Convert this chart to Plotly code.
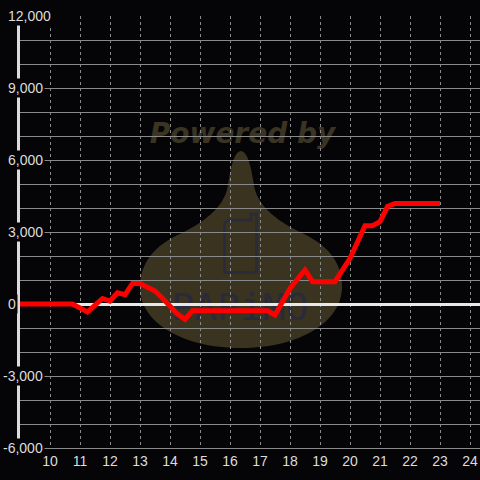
import plotly.graph_objects as go

# ---- data ----
hours = [9.0, 10.75, 11.25, 11.75, 12.0, 12.25, 12.5, 12.75, 13.0, 13.5, 13.75,
         14.25, 14.5, 14.75, 17.25, 17.5, 18.0, 18.5, 18.75, 19.5, 20.0, 20.5,
         20.75, 21.0, 21.25, 21.5, 23.0]
values = [0, 0, -330, 230, 125, 470, 390, 850, 850, 540, 240,
          -420, -640, -280, -280, -460, 650, 1420, 930, 930, 1900, 3260,
          3260, 3430, 4060, 4190, 4190]
x_ticks = list(range(10, 25))
y_ticks = [12000, 9000, 6000, 3000, 0, -3000, -6000]

BG = "#050407"
GRID = "#8a8a8a"
LABEL = "#dcdcdc"

# plot area in screen pixels: x 20..480, y 16..448
L, T, W, H = 20, 16, 460, 432
def X(px):
    return (px - L) / W
def Y(py):
    return (T + H - py) / H
def path(pts):
    s = "M {:.4f},{:.4f} ".format(X(pts[0][0]), Y(pts[0][1]))
    for p in pts[1:]:
        s += "L {:.4f},{:.4f} ".format(X(p[0]), Y(p[1]))
    return s + "Z"

def cpath(start, curves):
    s = "M {:.4f},{:.4f} ".format(X(start[0]), Y(start[1]))
    for c in curves:
        s += "C {:.4f},{:.4f} {:.4f},{:.4f} {:.4f},{:.4f} ".format(
            X(c[0]), Y(c[1]), X(c[2]), Y(c[3]), X(c[4]), Y(c[5]))
    return s + "Z"

onion = cpath((241, 151), [
    (247, 151, 251, 165, 254, 185),
    (257, 205, 275, 220, 302, 233),
    (330, 246, 343, 265, 342, 288),
    (341, 322, 300, 348, 241, 348),
    (182, 348, 140, 322, 140, 288),
    (140, 262, 155, 245, 182, 233),
    (208, 220, 225, 205, 228, 185),
    (231, 165, 235, 151, 241, 151),
])
phone = path([(228, 220), (251, 220), (251, 214), (256.5, 214), (256.5, 272.5),
              (224.5, 272.5), (224.5, 223)])

fig = go.Figure()
fig.add_trace(go.Scatter(x=hours, y=values, mode="lines",
                         line=dict(color="#ff0000", width=5),
                         hoverinfo="skip", showlegend=False))

fig.update_layout(
    width=480, height=480,
    margin=dict(l=L, r=480 - L - W, t=T, b=480 - T - H),
    paper_bgcolor=BG, plot_bgcolor=BG,
    showlegend=False,
    xaxis=dict(range=[9, 9 + W / 30], tickmode="array", tickvals=x_ticks,
               ticktext=[str(v) for v in x_ticks],
               showgrid=True, gridcolor=GRID, gridwidth=1, griddash="3px,3px",
               showline=True, linecolor=GRID, linewidth=1, zeroline=False,
               ticks="", tickfont=dict(family="Liberation Sans", size=14, color=LABEL)),
    yaxis=dict(range=[-6000, 12000], dtick=1000, tick0=0, showticklabels=False,
               showgrid=True, gridcolor=GRID, gridwidth=1,
               zeroline=True, zerolinecolor="#e8e8e8", zerolinewidth=3,
               showline=True, linecolor=LABEL, linewidth=3, ticks=""),
    shapes=[
        dict(type="path", path=onion, xref="paper", yref="paper",
             fillcolor="#3a3320", line=dict(width=0), layer="below"),
        dict(type="path", path=phone, xref="paper", yref="paper",
             line=dict(color="#2a2b3a", width=2.5), layer="below"),
        dict(type="rect", xref="paper", yref="paper",
             x0=X(140), x1=X(345), y0=Y(146), y1=Y(116),
             line=dict(width=0), fillcolor="rgba(0,0,0,0)", layer="below",
             label=dict(text="Powered by", textposition="middle center",
                        font=dict(family="DejaVu Sans", size=28, color="#3a3422",
                                  weight="bold", style="italic"))),
        dict(type="rect", xref="paper", yref="paper",
             x0=X(170), x1=X(310), y0=Y(324), y1=Y(284),
             line=dict(width=0), fillcolor="rgba(0,0,0,0)", layer="below",
             label=dict(text="PAPiMO", textposition="middle center",
                        font=dict(family="DejaVu Sans Mono", size=38, color="#2a2b3a"))),
    ],
)

annotations = []
for v in y_ticks:
    annotations.append(dict(
        text=f"{v:,}", xref="paper", yref="y", x=0, y=v,
        xanchor="left", yanchor="middle", showarrow=False,
        xshift=-14 - (5 if v < 0 else 0),
        bgcolor=BG, borderpad=1,
        font=dict(family="Liberation Sans", size=14, color=LABEL)))
fig.update_layout(annotations=annotations)

fig.write_html(
    "out.html",
    config={"displayModeBar": False},
    post_script="document.body.style.margin='0';document.body.style.background='#050407';",
)
